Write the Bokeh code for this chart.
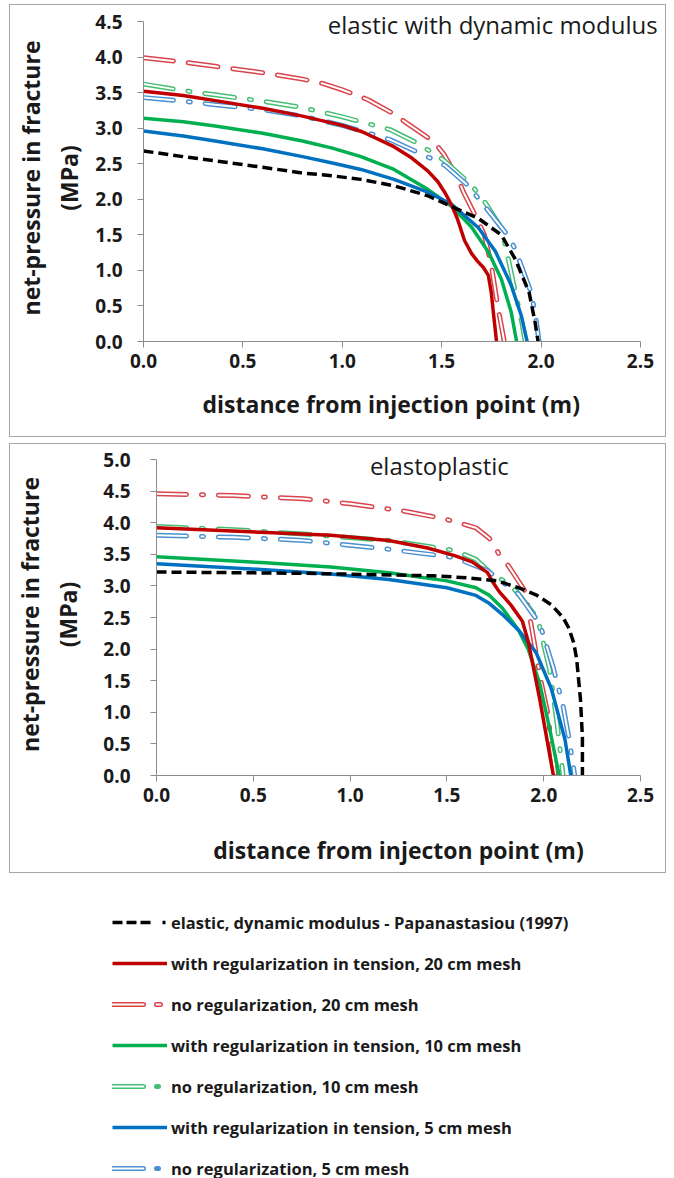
import numpy as np
from bokeh.plotting import figure
from bokeh.models import (Range1d, SingleIntervalTicker, NumeralTickFormatter, Label,
                          Legend, LegendItem, Title)
from bokeh.embed import file_html
from bokeh.resources import INLINE

# ---------------- data: top panel (elastic with dynamic modulus) ----------------
top_black_x = [0, 0.2, 0.36, 0.6, 0.8, 0.95, 1.094, 1.26, 1.43, 1.565, 1.685, 1.8, 1.87, 1.94, 1.97, 1.985]
top_black_y = [2.68, 2.6, 2.54, 2.45, 2.37, 2.33, 2.28, 2.19, 2.05, 1.88, 1.73, 1.5, 1.16, 0.69, 0.27, 0.0]

top_red_x = [0, 0.2, 0.4, 0.6, 0.8, 1.0, 1.1, 1.26, 1.35, 1.43, 1.48, 1.515, 1.55, 1.58,
             1.615, 1.65, 1.68, 1.71, 1.735, 1.75, 1.76, 1.776]
top_red_y = [3.52, 3.46, 3.37, 3.28, 3.17, 3.04, 2.95, 2.74, 2.58, 2.4, 2.25, 2.1, 1.92, 1.72,
             1.42, 1.24, 1.13, 1.04, 0.93, 0.68, 0.41, 0.0]

top_red_nr_x = [0, 0.2, 0.36, 0.6, 0.8, 0.9, 1.0, 1.13, 1.26, 1.33, 1.46, 1.51, 1.58, 1.61, 1.675,
                1.715, 1.75, 1.785, 1.815]
top_red_nr_y = [3.99, 3.93, 3.87, 3.78, 3.69, 3.63, 3.54, 3.4, 3.2, 3.06, 2.81, 2.64, 2.3, 2.1, 1.74,
                1.5, 1.07, 0.45, 0.0]

top_green_x = [0, 0.2, 0.36, 0.6, 0.8, 0.95, 1.094, 1.26, 1.43, 1.55, 1.65, 1.735, 1.8, 1.85, 1.877]
top_green_y = [3.14, 3.09, 3.03, 2.93, 2.82, 2.72, 2.6, 2.42, 2.14, 1.9, 1.61, 1.26, 0.88, 0.41, 0.0]

top_green_nr_x = [0, 0.2, 0.36, 0.6, 0.8, 1.0, 1.24, 1.37, 1.44, 1.51, 1.65, 1.72, 1.8, 1.84,
                  1.87, 1.905, 1.92]
top_green_nr_y = [3.62, 3.53, 3.47, 3.38, 3.29, 3.16, 2.98, 2.8, 2.68, 2.55, 2.2, 1.95, 1.6, 1.1,
                  0.7, 0.25, 0.0]

top_blue_x = [0, 0.2, 0.36, 0.6, 0.8, 0.95, 1.094, 1.26, 1.43, 1.55, 1.685, 1.77, 1.85, 1.9, 1.93]
top_blue_y = [2.96, 2.89, 2.82, 2.71, 2.6, 2.51, 2.42, 2.28, 2.1, 1.93, 1.6, 1.27, 0.79, 0.37, 0.0]

top_blue_nr_x = [0, 0.2, 0.36, 0.6, 0.8, 1.0, 1.24, 1.38, 1.45, 1.52, 1.63, 1.72, 1.83, 1.87,
                 1.95, 1.97, 1.99]
top_blue_nr_y = [3.43, 3.38, 3.33, 3.26, 3.17, 3.04, 2.84, 2.66, 2.57, 2.47, 2.2, 1.89, 1.5, 1.3,
                 0.69, 0.4, 0.0]

# ---------------- data: bottom panel (elastoplastic) ----------------
bot_black_x = [0, 0.76, 1.43, 1.6, 1.76, 1.88, 1.96, 2.04, 2.1, 2.13, 2.155, 2.17, 2.19, 2.2, 2.2]
bot_black_y = [3.22, 3.2, 3.16, 3.13, 3.08, 2.96, 2.86, 2.7, 2.5, 2.33, 2.1, 1.85, 1.2, 0.6, 0.0]

bot_red_x = [0, 0.54, 0.9, 1.2, 1.4, 1.54, 1.63, 1.71, 1.735, 1.77, 1.83, 1.89, 1.92, 1.98, 2.05]
bot_red_y = [3.92, 3.85, 3.8, 3.72, 3.6, 3.48, 3.38, 3.21, 3.07, 2.91, 2.7, 2.44, 2.12, 1.2, 0.0]

bot_red_nr_x = [0, 0.4, 0.76, 1.0, 1.27, 1.49, 1.65, 1.72, 1.77, 1.82, 1.905, 1.94, 1.99, 2.02, 2.06]
bot_red_nr_y = [4.46, 4.43, 4.38, 4.3, 4.19, 4.06, 3.92, 3.75, 3.5, 3.31, 2.91, 2.3, 1.43, 1.0, 0.0]

bot_green_x = [0, 0.54, 0.9, 1.2, 1.5, 1.65, 1.72, 1.786, 1.87, 1.92, 1.98, 2.03, 2.08]
bot_green_y = [3.46, 3.37, 3.3, 3.21, 3.08, 2.97, 2.85, 2.65, 2.3, 2.0, 1.45, 0.75, 0.0]

bot_green_nr_x = [0, 0.4, 0.76, 1.2, 1.54, 1.65, 1.735, 1.8, 1.86, 1.97, 1.99, 2.03, 2.07, 2.1]
bot_green_nr_y = [3.94, 3.89, 3.82, 3.72, 3.56, 3.42, 3.18, 3.07, 2.91, 2.48, 2.2, 1.69, 0.8, 0.0]

bot_blue_x = [0, 0.54, 0.9, 1.2, 1.5, 1.65, 1.72, 1.786, 1.87, 1.96, 2.04, 2.11, 2.14]
bot_blue_y = [3.35, 3.26, 3.19, 3.1, 2.97, 2.85, 2.72, 2.55, 2.3, 1.95, 1.37, 0.57, 0.0]

bot_blue_nr_x = [0, 0.4, 0.76, 1.2, 1.54, 1.71, 1.87, 1.98, 2.05, 2.1, 2.13, 2.16]
bot_blue_nr_y = [3.8, 3.77, 3.72, 3.58, 3.45, 3.24, 2.87, 2.4, 1.7, 1.1, 0.6, 0.0]

legend_labels = [
    "elastic, dynamic modulus - Papanastasiou (1997)",
    "with regularization in tension, 20 cm mesh",
    "no regularization, 20 cm mesh",
    "with regularization in tension, 10 cm mesh",
    "no regularization, 10 cm mesh",
    "with regularization in tension, 5 cm mesh",
    "no regularization, 5 cm mesh",
]

RED, GREEN, BLUE = "#C00000", "#00B050", "#0070C0"
RED_H, GREEN_H, BLUE_H = "#D9434B", "#45BE74", "#4A90D0"
FONT = "Open Sans"
AX_COL = "#8c8c8c"
TXT = "#1a1a1a"


def hollow(p, x, y, color, dash):
    p.line(x, y, line_color=color, line_width=5, line_dash=dash, line_cap="round")
    p.line(x, y, line_color="white", line_width=2, line_dash=dash, line_cap="round")


def make_panel(width, height, xend, yend, ymax, bl, br, bt, bb,
               ylab_standoff, ylabel_standoff_ticks):
    p = figure(width=width, height=height, x_range=Range1d(0, xend), y_range=Range1d(0, yend),
               output_backend="svg", toolbar_location=None,
               min_border_left=bl, min_border_right=br, min_border_top=bt, min_border_bottom=bb)
    p.grid.visible = False
    p.outline_line_color = None
    p.xaxis.ticker = SingleIntervalTicker(interval=0.5)
    p.yaxis.ticker = SingleIntervalTicker(interval=0.5)
    p.xaxis.bounds = (0, 2.5)
    p.yaxis.bounds = (0, ymax)
    for ax in (p.xaxis[0], p.yaxis[0]):
        ax.formatter = NumeralTickFormatter(format="0.0")
        ax.minor_tick_line_color = None
        ax.axis_line_color = AX_COL
        ax.major_tick_line_color = AX_COL
        ax.major_tick_in = 0
        ax.major_tick_out = 6
        ax.major_label_text_font = FONT
        ax.major_label_text_font_style = "bold"
        ax.major_label_text_font_size = "19px"
        ax.major_label_text_color = TXT
        ax.axis_label_text_font = FONT
        ax.axis_label_text_font_style = "bold"
        ax.axis_label_text_font_size = "23px"
        ax.axis_label_text_color = TXT
    p.xaxis.major_label_standoff = 6
    p.yaxis.axis_label = "net-pressure in fracture\n(MPa)"
    p.yaxis.axis_label_standoff = ylab_standoff
    p.yaxis.major_label_standoff = ylabel_standoff_ticks
    p.styles = {"border": "1px solid #a6a6a6"}
    return p


# ---------------- top panel ----------------
p1 = make_panel(657, 433, 2.611, 4.599, 4.5, 133, 5, 9, 97, 7, 15)
p1.margin = (4, 0, 0, 9)
p1.add_layout(Title(text="distance from injection point (m)", align="left", offset=59, standoff=30,
                    text_font=FONT, text_font_style="bold", text_font_size="23px",
                    text_color=TXT), "below")
hollow(p1, top_red_nr_x, top_red_nr_y, RED_H, "30 15")
hollow(p1, top_green_nr_x, top_green_nr_y, GREEN_H, "30 15 2 15")
hollow(p1, top_blue_nr_x, top_blue_nr_y, BLUE_H, "30 15 2 15")
p1.line(top_green_x, top_green_y, line_color=GREEN, line_width=3.5)
p1.line(top_blue_x, top_blue_y, line_color=BLUE, line_width=3.5)
p1.line(top_red_x, top_red_y, line_color=RED, line_width=3.5)
p1.line(top_black_x, top_black_y, line_color="black", line_width=3.5, line_dash="10 5")
p1.add_layout(Label(x=1.757, y=4.46, text="elastic with dynamic modulus",
                    text_align="center", text_baseline="middle",
                    text_font=FONT, text_font_size="24px", text_color=TXT))

# ---------------- bottom panel ----------------
p2 = make_panel(657, 430, 2.5, 5.0955, 5.0, 143, 27, 9, 99, 16, 20)
p2.margin = (6, 0, 0, 9)
p2.xaxis.axis_label = "distance from injecton point (m)"
p2.xaxis.axis_label_standoff = 29
hollow(p2, bot_red_nr_x, bot_red_nr_y, RED_H, "30 15 2 15")
hollow(p2, bot_green_nr_x, bot_green_nr_y, GREEN_H, "30 15 2 15")
hollow(p2, bot_blue_nr_x, bot_blue_nr_y, BLUE_H, "30 15 2 15")
p2.line(bot_green_x, bot_green_y, line_color=GREEN, line_width=3.5)
p2.line(bot_blue_x, bot_blue_y, line_color=BLUE, line_width=3.5)
p2.line(bot_red_x, bot_red_y, line_color=RED, line_width=3.5)
p2.line(bot_black_x, bot_black_y, line_color="black", line_width=3.5, line_dash="10 5")
p2.add_layout(Label(x=1.461, y=4.9, text="elastoplastic",
                    text_align="center", text_baseline="middle",
                    text_font=FONT, text_font_size="24px", text_color=TXT))

# ---------------- legend ----------------
p3 = figure(width=674, height=305, x_range=Range1d(0, 1), y_range=Range1d(0, 1),
            output_backend="svg", toolbar_location=None,
            x_axis_type=None, y_axis_type=None,
            min_border_left=112, min_border_top=37, min_border_right=0, min_border_bottom=0)
p3.grid.visible = False
p3.outline_line_color = None
nan = [np.nan]
r_black = p3.line(nan, nan, line_color="black", line_width=3.5, line_dash="10 4 10 4 10 12 3 100")
r_red = p3.line(nan, nan, line_color=RED, line_width=3.5)
r_red_o = p3.line(nan, nan, line_color=RED_H, line_width=5, line_dash="31 13 4 100", line_cap="round")
r_red_i = p3.line(nan, nan, line_color="white", line_width=2, line_dash="31 13 4 100", line_cap="round")
r_green = p3.line(nan, nan, line_color=GREEN, line_width=3.5)
r_green_o = p3.line(nan, nan, line_color=GREEN_H, line_width=5, line_dash="31 13 2 100", line_cap="round")
r_green_i = p3.line(nan, nan, line_color="white", line_width=2, line_dash="31 100", line_cap="round")
r_blue = p3.line(nan, nan, line_color=BLUE, line_width=3.5)
r_blue_o = p3.line(nan, nan, line_color=BLUE_H, line_width=5, line_dash="31 13 2 100", line_cap="round")
r_blue_i = p3.line(nan, nan, line_color="white", line_width=2, line_dash="31 100", line_cap="round")
rends = [[r_black], [r_red], [r_red_o, r_red_i], [r_green], [r_green_o, r_green_i],
         [r_blue], [r_blue_o, r_blue_i]]
items = [LegendItem(label=lab, renderers=rr) for lab, rr in zip(legend_labels, rends)]
leg = Legend(items=items, location="top_left", orientation="vertical",
             glyph_width=55, glyph_height=24, label_height=24, spacing=17,
             label_standoff=4, padding=0, margin=0,
             border_line_color=None, background_fill_alpha=0,
             label_text_font=FONT, label_text_font_style="bold",
             label_text_font_size="16.5px", label_text_color=TXT)
p3.add_layout(leg)

open("out.html", "w").write(file_html([p1, p2, p3], INLINE))
